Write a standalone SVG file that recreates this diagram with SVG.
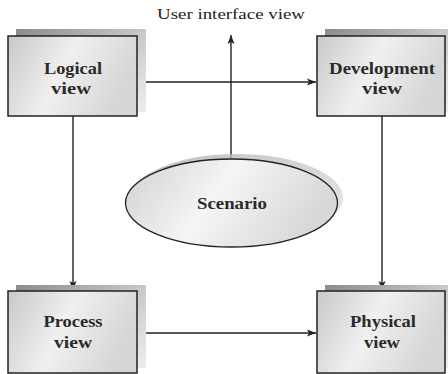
<svg xmlns="http://www.w3.org/2000/svg" width="448" height="374" viewBox="0 0 448 374">
<defs>
<linearGradient id="boxFill" x1="0" y1="0" x2="1" y2="0.3">
<stop offset="0" stop-color="#c9c9c9"/>
<stop offset="0.5" stop-color="#f0f0f0"/>
<stop offset="1" stop-color="#d6d6d6"/>
</linearGradient>
<linearGradient id="shadowFill" x1="0" y1="0" x2="1" y2="1">
<stop offset="0" stop-color="#8a8a8a"/>
<stop offset="0.5" stop-color="#c8c8c8"/>
<stop offset="1" stop-color="#eeeeee"/>
</linearGradient>
<linearGradient id="ellShadow" x1="0" y1="0" x2="1" y2="1">
<stop offset="0" stop-color="#b0b0b0"/>
<stop offset="1" stop-color="#e8e8e8"/>
</linearGradient>
<linearGradient id="ellFill" x1="0" y1="0" x2="1" y2="0.3">
<stop offset="0" stop-color="#d0d0d0"/>
<stop offset="0.5" stop-color="#f5f5f5"/>
<stop offset="1" stop-color="#d8d8d8"/>
</linearGradient>
<marker id="arrow" markerWidth="10" markerHeight="8" refX="9" refY="4" orient="auto" markerUnits="userSpaceOnUse">
<path d="M0,0.5 L9,4 L0,7.5 L2,4 Z" fill="#222"/>
</marker>
</defs>
<style>
.box{fill:url(#boxFill);stroke:#222;stroke-width:1.5}
.shadow{fill:url(#shadowFill);stroke:none}
.lbl{font-family:"Liberation Serif","Times New Roman",serif;font-weight:bold;font-size:16px;fill:#2a2a2a;text-anchor:middle}
.top{font-family:"Liberation Serif","Times New Roman",serif;font-size:15px;fill:#222;text-anchor:middle}
.conn{stroke:#222;stroke-width:1.4;fill:none;marker-end:url(#arrow)}
</style>
<rect width="448" height="374" fill="#ffffff"/>
<text class="top" x="231" y="19" textLength="148" lengthAdjust="spacingAndGlyphs">User interface view</text>
<g id="connectors">
<line class="conn" x1="231" y1="159" x2="231" y2="35"/>
<line class="conn" x1="137" y1="82" x2="316" y2="82"/>
<line class="conn" x1="73" y1="116" x2="73" y2="290"/>
<line class="conn" x1="382" y1="116" x2="382" y2="290"/>
<line class="conn" x1="137" y1="333" x2="316" y2="333"/>
</g>
<g id="logical">
<rect class="shadow" x="16" y="29" width="130" height="83"/>
<rect class="box" x="8" y="36" width="129" height="80"/>
<text class="lbl" x="73" y="74" textLength="58" lengthAdjust="spacingAndGlyphs">Logical</text>
<text class="lbl" x="71" y="94" textLength="40" lengthAdjust="spacingAndGlyphs">view</text>
</g>
<g id="development">
<rect class="shadow" x="325" y="29" width="123" height="83"/>
<rect class="box" x="317" y="36" width="128" height="80"/>
<text class="lbl" x="382" y="74" textLength="106" lengthAdjust="spacingAndGlyphs">Development</text>
<text class="lbl" x="382" y="94" textLength="40" lengthAdjust="spacingAndGlyphs">view</text>
</g>
<g id="process">
<rect class="shadow" x="16" y="285" width="130" height="83"/>
<rect class="box" x="8" y="291" width="129" height="82"/>
<text class="lbl" x="73" y="327" textLength="59" lengthAdjust="spacingAndGlyphs">Process</text>
<text class="lbl" x="73" y="348" textLength="38" lengthAdjust="spacingAndGlyphs">view</text>
</g>
<g id="physical">
<rect class="shadow" x="325" y="285" width="123" height="83"/>
<rect class="box" x="317" y="291" width="128" height="82"/>
<text class="lbl" x="383" y="327" textLength="66" lengthAdjust="spacingAndGlyphs">Physical</text>
<text class="lbl" x="382" y="348" textLength="36" lengthAdjust="spacingAndGlyphs">view</text>
</g>
<g id="scenario">
<ellipse cx="237" cy="198" rx="106" ry="44" fill="url(#ellShadow)" opacity="0.8"/>
<ellipse cx="231.5" cy="203" rx="106" ry="44" fill="url(#ellFill)" stroke="#222" stroke-width="1.3"/>
<text class="lbl" x="232" y="209" textLength="70" lengthAdjust="spacingAndGlyphs">Scenario</text>
</g>
</svg>
